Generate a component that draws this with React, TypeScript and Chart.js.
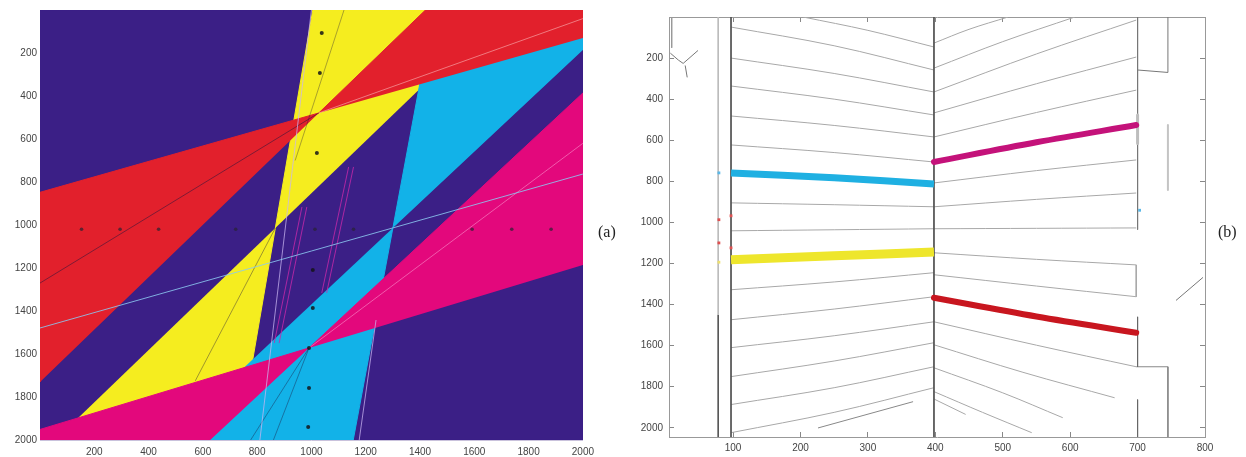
import React, { useEffect, useRef } from "react";
import { Chart, registerables } from "chart.js";

Chart.register(...registerables);

// ================= Panel (a) =================
const aXTicks = [200, 400, 600, 800, 1000, 1200, 1400, 1600, 1800, 2000];
const aXLabels = ["200", "400", "600", "800", "1000", "1200", "1400", "1600", "1800", "2000"];
const aYTicks = [200, 400, 600, 800, 1000, 1200, 1400, 1600, 1800, 2000];
const aYLabels = ["200", "400", "600", "800", "1000", "1200", "1400", "1600", "1800", "2000"];

// region polygons (x list, y list)
const bgX = [0, 2000, 2000, 0];
const bgY = [0, 0, 2000, 2000];
const yellowUpX = [867, 1005, 1701];
const yellowUpY = [1014, 0, 0];
const yellowLoX = [867, 733, 56];
const yellowLoY = [1014, 2000, 2000];
const cyanUpX = [1300, 1450, 2000, 2000];
const cyanUpY = [1014, 0, 0, 186];
const cyanLoX = [1300, 1154, 467];
const cyanLoY = [1014, 2000, 2000];
const redLeftX = [1027, 0, 0];
const redLeftY = [479, 848, 1730];
const redRightX = [1027, 1420, 2000, 2000];
const redRightY = [479, 0, 0, 130];
const magRightX = [991, 2000, 2000];
const magRightY = [1572, 386, 1186];
const magLeftX = [991, 0, 0, 627];
const magLeftY = [1572, 1951, 2000, 2000];

// thin lines
const lightBlueX = [0, 2000];
const lightBlueY = [1479, 763];
const lavAX = [1000, 810];
const lavAY = [0, 2000];
const lavBX = [1238, 1176];
const lavBY = [1442, 2000];
const pink1aX = [965, 863];
const pink1bX = [983, 881];
const pink1Y = [916, 1549];
const pink2aX = [1137, 1038];
const pink2bX = [1155, 1056];
const pink2Y = [730, 1316];
const dark1X = [0, 1027];
const dark1Y = [1270, 479];
const dark2X = [867, 572];
const dark2Y = [1014, 1725];
const dark3X = [940, 1120];
const dark3Y = [700, 0];
const dark4X = [991, 776];
const dark4Y = [1572, 2000];
const dark5X = [991, 860];
const dark5Y = [1572, 2000];
const faint1X = [1027, 2000];
const faint1Y = [479, 40];
const faint2X = [991, 2000];
const faint2Y = [1572, 620];

// dots
const rowDotX = [153, 295, 437, 721, 1013, 1155, 1592, 1738, 1883];
const rowDotY = [1020, 1020, 1020, 1020, 1020, 1020, 1020, 1020, 1020];
const colDotX = [1038, 1031, 1020, 1005, 1005, 991, 991, 988];
const colDotY = [107, 293, 665, 1209, 1386, 1572, 1758, 1940];

// ================= Panel (b) =================
const bXTicks = [100, 200, 300, 400, 500, 600, 700, 800];
const bXLabels = ["100", "200", "300", "400", "500", "600", "700", "800"];
const bYTicks = [200, 400, 600, 800, 1000, 1200, 1400, 1600, 1800, 2000];
const bYLabels = ["200", "400", "600", "800", "1000", "1200", "1400", "1600", "1800", "2000"];

const leftHalfX = [97, 250, 398];
const rightHalfX = [398, 550, 698];

const bL0X = [204, 300, 398];
const bL0 = [0, 65, 146];
const bL1 = [49, 140, 258];
const bL2 = [200, 275, 365];
const bL3 = [336, 400, 477];
const bL4 = [482, 528, 584];
const bL5 = [623, 660, 706];
const bBlue = [759, 783, 813];
const bL6 = [905, 914, 924];
const bL7 = [1041, 1036, 1031];
const bYellow = [1182, 1163, 1144];
const bL8 = [1328, 1290, 1245];
const bL9 = [1474, 1422, 1362];
const bL10 = [1610, 1552, 1484];
const bL11 = [1751, 1675, 1586];
const bL12 = [1887, 1805, 1703];
const bL13 = [2024, 1925, 1805];

const bRTop1X = [398, 450, 508];
const bRTop1 = [127, 60, 0];
const bRTop2X = [398, 500, 607];
const bRTop2 = [249, 120, 0];
const bRa = [365, 180, 15];
const bRb = [467, 325, 195];
const bRc = [584, 465, 356];
const bMagenta = [706, 610, 526];
const bRd = [808, 748, 696];
const bRe = [924, 888, 857];
const bRf = [1031, 1029, 1027];
const bRg = [1148, 1180, 1207];
const bRgEndX = [698, 698];
const bRgEndY = [1207, 1362];
const bRh = [1255, 1310, 1362];
const bRed = [1367, 1458, 1537];
const bRi = [1484, 1598, 1703];
const bRiEndX = [698, 745, 745];
const bRiEndY = [1703, 1703, 2045];
const bRjX = [398, 530, 666];
const bRj = [1596, 1730, 1854];
const bRkX = [398, 500, 589];
const bRk = [1708, 1830, 1951];
const bRlX = [398, 470, 543];
const bRl = [1824, 1925, 2024];

const bSegAX = [226, 367];
const bSegAY = [2001, 1873];
const bSegBX = [398, 445];
const bSegBY = [1860, 1935];
const bSegCX = [757, 797];
const bSegCY = [1380, 1268];
const bSquigX = [7, 19, 26, 48];
const bSquigY = [176, 210, 226, 163];
const bSquigTailX = [29, 32];
const bSquigTailY = [236, 294];
const bCornerVX = [9, 9];
const bCornerVY = [0, 150];

const bV78X = [78, 78];
const bV78LightY = [0, 1450];
const bV78DarkY = [1450, 2045];
const bV97X = [97, 97];
const bV97Y = [0, 2045];
const bV398X = [398, 398];
const bV398Y = [0, 2045];
const bV700X = [700, 700];
const bV700aY = [0, 1035];
const bV700bY = [1460, 1703];
const bV700cY = [1863, 2045];
const bV700SmudgeY = [477, 616];
const bV745TopX = [700, 745, 745];
const bV745TopY = [258, 270, 0];
const bV745MidX = [745, 745];
const bV745MidY = [526, 842];

const bMarkBlueX = [79, 703];
const bMarkBlueY = [759, 941];
const bMarkRedX = [79, 97, 79, 97];
const bMarkRedY = [987, 968, 1100, 1124];
const bMarkYellowX = [79];
const bMarkYellowY = [1194];

// ================= helpers =================
const pts = (xs: number[], ys: number[]) => xs.map((x, i) => ({ x, y: ys[i] }));

const polygon = (xs: number[], ys: number[], color: string, order: number) => ({
  data: pts(xs, ys),
  showLine: true,
  fill: "shape",
  backgroundColor: color,
  borderColor: color,
  borderWidth: 1,
  pointRadius: 0,
  pointHoverRadius: 0,
  tension: 0,
  order,
});

const line = (
  xs: number[],
  ys: number[],
  color: string,
  width: number,
  order: number,
  tension = 0,
  cap = "butt"
) => ({
  data: pts(xs, ys),
  showLine: true,
  fill: false,
  borderColor: color,
  backgroundColor: color,
  borderWidth: width,
  borderCapStyle: cap,
  borderJoinStyle: "round",
  pointRadius: 0,
  pointHoverRadius: 0,
  tension,
  order,
});

const dots = (xs: number[], ys: number[], color: string, radius: number, order: number, style = "circle") => ({
  data: pts(xs, ys),
  showLine: false,
  pointRadius: radius,
  pointHoverRadius: radius,
  pointStyle: style,
  pointBackgroundColor: color,
  pointBorderColor: color,
  pointBorderWidth: 0,
  order,
});

const fixedTicks = (values: number[]) => (scale: any) => {
  scale.ticks = values.map((v) => ({ value: v }));
};
const labelFrom = (values: number[], labels: string[]) => (v: any) => {
  const i = values.indexOf(Number(v));
  return i >= 0 ? labels[i] : "";
};

const tickFont = { family: "'Liberation Sans', Arial, sans-serif", size: 10 };

export default function App() {
  const aRef = useRef<HTMLCanvasElement>(null);
  const bRef = useRef<HTMLCanvasElement>(null);

  useEffect(() => {
    const PURPLE = "#3b1f86";
    const YELLOW = "#f5ed1f";
    const CYAN = "#12b2e8";
    const RED = "#e2202c";
    const MAGENTA = "#e3087c";

    const chartA = new Chart(aRef.current as HTMLCanvasElement, {
      type: "scatter",
      data: {
        datasets: [
          polygon(bgX, bgY, PURPLE, 100),
          polygon(yellowUpX, yellowUpY, YELLOW, 90),
          polygon(yellowLoX, yellowLoY, YELLOW, 90),
          polygon(cyanUpX, cyanUpY, CYAN, 80),
          polygon(cyanLoX, cyanLoY, CYAN, 80),
          polygon(redLeftX, redLeftY, RED, 70),
          polygon(redRightX, redRightY, RED, 70),
          polygon(magRightX, magRightY, MAGENTA, 60),
          polygon(magLeftX, magLeftY, MAGENTA, 60),
          line(dark1X, dark1Y, "rgba(30,20,60,0.5)", 1, 50),
          line(dark2X, dark2Y, "rgba(30,20,60,0.4)", 1, 50),
          line(dark3X, dark3Y, "rgba(30,20,60,0.35)", 1, 50),
          line(dark4X, dark4Y, "rgba(30,20,60,0.4)", 1, 50),
          line(dark5X, dark5Y, "rgba(30,20,60,0.4)", 1, 50),
          line(faint1X, faint1Y, "rgba(255,210,210,0.5)", 1, 50),
          line(faint2X, faint2Y, "rgba(255,170,220,0.5)", 1, 50),
          line(lavAX, lavAY, "rgba(200,180,240,0.75)", 1, 45),
          line(lavBX, lavBY, "rgba(200,180,240,0.75)", 1, 45),
          line(pink1aX, pink1Y, "rgba(200,40,170,0.8)", 1, 45),
          line(pink1bX, pink1Y, "rgba(200,40,170,0.8)", 1, 45),
          line(pink2aX, pink2Y, "rgba(200,40,170,0.8)", 1, 45),
          line(pink2bX, pink2Y, "rgba(200,40,170,0.8)", 1, 45),
          line(lightBlueX, lightBlueY, "rgba(140,200,240,0.85)", 1, 44),
          dots(rowDotX, rowDotY, "rgba(40,35,50,0.7)", 1.8, 40),
          dots(colDotX, colDotY, "rgba(20,20,25,0.85)", 2, 40),
        ] as any,
      },
      options: {
        animation: false,
        responsive: false,
        events: [],
        layout: { padding: { left: 0, right: 11, top: 10, bottom: 0 } },
        plugins: { legend: { display: false }, tooltip: { enabled: false } },
        scales: {
          x: {
            type: "linear",
            min: 0,
            max: 2000,
            afterBuildTicks: fixedTicks(aXTicks),
            afterFit: (s: any) => {
              s.height = 17;
            },
            grid: { display: false, drawTicks: false },
            border: { display: true, color: "#c9c2dc", width: 1 },
            ticks: { padding: 6, color: "#444", font: tickFont, maxRotation: 0, autoSkip: false, callback: labelFrom(aXTicks, aXLabels) },
          },
          y: {
            type: "linear",
            min: 0,
            max: 2000,
            reverse: true,
            afterBuildTicks: fixedTicks(aYTicks),
            afterFit: (s: any) => {
              s.width = 40;
            },
            grid: { display: false, drawTicks: false },
            border: { display: true, color: "#c9c2dc", width: 1 },
            ticks: { padding: 3, color: "#444", font: tickFont, autoSkip: false, callback: labelFrom(aYTicks, aYLabels) },
          },
        },
      } as any,
    });

    const THIN = "#a8a8a8";
    const DARKV = "#555";
    const B_BLUE = "#1fb0e2";
    const B_YELLOW = "#eee62c";
    const B_MAGENTA = "#c4127a";
    const B_RED = "#c8161f";
    const T = 0.35;

    const boxGrid = { display: true, drawOnChartArea: false, drawTicks: true, tickLength: -5, color: "#888", lineWidth: 1 };
    const boxBorder = { display: true, color: "#999", width: 1 };

    const chartB = new Chart(bRef.current as HTMLCanvasElement, {
      type: "scatter",
      data: {
        datasets: [
          line(bL0X, bL0, THIN, 1, 50, T),
          line(leftHalfX, bL1, THIN, 1, 50, T),
          line(leftHalfX, bL2, THIN, 1, 50, T),
          line(leftHalfX, bL3, THIN, 1, 50, T),
          line(leftHalfX, bL4, THIN, 1, 50, T),
          line(leftHalfX, bL5, THIN, 1, 50, T),
          line(leftHalfX, bL6, THIN, 1, 50, T),
          line(leftHalfX, bL7, THIN, 1, 50, T),
          line(leftHalfX, bL8, THIN, 1, 50, T),
          line(leftHalfX, bL9, THIN, 1, 50, T),
          line(leftHalfX, bL10, THIN, 1, 50, T),
          line(leftHalfX, bL11, THIN, 1, 50, T),
          line(leftHalfX, bL12, THIN, 1, 50, T),
          line(leftHalfX, bL13, THIN, 1, 50, T),
          line(bRTop1X, bRTop1, THIN, 1, 50, T),
          line(bRTop2X, bRTop2, THIN, 1, 50, T),
          line(rightHalfX, bRa, THIN, 1, 50, T),
          line(rightHalfX, bRb, THIN, 1, 50, T),
          line(rightHalfX, bRc, THIN, 1, 50, T),
          line(rightHalfX, bRd, THIN, 1, 50, T),
          line(rightHalfX, bRe, THIN, 1, 50, T),
          line(rightHalfX, bRf, THIN, 1, 50, T),
          line(rightHalfX, bRg, THIN, 1, 50, T),
          line(bRgEndX, bRgEndY, THIN, 1, 50),
          line(rightHalfX, bRh, THIN, 1, 50, T),
          line(rightHalfX, bRi, THIN, 1, 50, T),
          line(bRiEndX, bRiEndY, "#888", 1, 50),
          line(bRjX, bRj, THIN, 1, 50, T),
          line(bRkX, bRk, THIN, 1, 50, T),
          line(bRlX, bRl, THIN, 1, 50, T),
          line(bSegAX, bSegAY, "#888", 1, 50),
          line(bSegBX, bSegBY, THIN, 1, 50),
          line(bSegCX, bSegCY, "#777", 1, 50),
          line(bSquigX, bSquigY, "#777", 1, 50),
          line(bSquigTailX, bSquigTailY, "#777", 1, 50),
          line(bCornerVX, bCornerVY, "#999", 1, 50),
          line(bV78X, bV78LightY, "#bbb", 1, 48),
          line(bV78X, bV78DarkY, "#555", 1, 48),
          line(bV97X, bV97Y, DARKV, 1, 48),
          line(bV398X, bV398Y, DARKV, 1, 48),
          line(bV700X, bV700aY, "#777", 1, 48),
          line(bV700X, bV700bY, "#666", 1, 48),
          line(bV700X, bV700cY, "#666", 1, 48),
          line(bV700X, bV700SmudgeY, "#bdbdbd", 3, 47),
          line(bV745TopX, bV745TopY, "#777", 1, 48),
          line(bV745MidX, bV745MidY, "#c4c4c4", 2, 48),
          line(leftHalfX, bBlue, B_BLUE, 7, 20, T),
          line(leftHalfX, bYellow, B_YELLOW, 9, 20, T),
          line(rightHalfX, bMagenta, B_MAGENTA, 6, 20, T, "round"),
          line(rightHalfX, bRed, B_RED, 6, 20, T, "round"),
          dots(bMarkBlueX, bMarkBlueY, "#5ab8e8", 2, 10, "rect"),
          dots(bMarkRedX, bMarkRedY, "#e05050", 2, 10, "rect"),
          dots(bMarkYellowX, bMarkYellowY, "#eee070", 2, 10, "rect"),
        ] as any,
      },
      options: {
        animation: false,
        responsive: false,
        events: [],
        layout: { padding: { left: 0, right: 41, top: 17, bottom: 0 } },
        plugins: { legend: { display: false }, tooltip: { enabled: false } },
        scales: {
          x: {
            type: "linear",
            position: "bottom",
            min: 5,
            max: 800,
            afterBuildTicks: fixedTicks(bXTicks),
            afterFit: (s: any) => {
              s.height = 20;
            },
            grid: boxGrid,
            border: boxBorder,
            ticks: { padding: 10, color: "#444", font: tickFont, maxRotation: 0, autoSkip: false, callback: labelFrom(bXTicks, bXLabels) },
          },
          x2: {
            type: "linear",
            position: "top",
            min: 5,
            max: 800,
            afterBuildTicks: fixedTicks(bXTicks),
            afterFit: (s: any) => {
              s.height = 0;
            },
            grid: boxGrid,
            border: boxBorder,
            ticks: { display: false },
          },
          y: {
            type: "linear",
            position: "left",
            min: 0,
            max: 2045,
            reverse: true,
            afterBuildTicks: fixedTicks(bYTicks),
            afterFit: (s: any) => {
              s.width = 49;
            },
            grid: boxGrid,
            border: boxBorder,
            ticks: { padding: 11, color: "#444", font: tickFont, autoSkip: false, callback: labelFrom(bYTicks, bYLabels) },
          },
          y2: {
            type: "linear",
            position: "right",
            min: 0,
            max: 2045,
            reverse: true,
            afterBuildTicks: fixedTicks(bYTicks),
            afterFit: (s: any) => {
              s.width = 0;
            },
            grid: boxGrid,
            border: boxBorder,
            ticks: { display: false },
          },
        },
      } as any,
    });

    return () => {
      chartA.destroy();
      chartB.destroy();
    };
  }, []);

  const labelStyle: React.CSSProperties = {
    position: "absolute",
    font: '16px "Liberation Serif", "Times New Roman", serif',
    color: "#222",
    lineHeight: "16px",
  };

  return (
    <div
      style={{
        position: "fixed",
        left: 0,
        top: 0,
        width: 1246,
        height: 457,
        background: "#ffffff",
        overflow: "hidden",
      }}
    >
      <canvas ref={aRef} width={600} height={457} style={{ position: "absolute", left: 0, top: 0, width: 600, height: 457 }} />
      <canvas ref={bRef} width={626} height={457} style={{ position: "absolute", left: 620, top: 0, width: 626, height: 457 }} />
      <span style={{ ...labelStyle, left: 598, top: 224 }}>(a)</span>
      <span style={{ ...labelStyle, left: 1218, top: 224 }}>(b)</span>
    </div>
  );
}
